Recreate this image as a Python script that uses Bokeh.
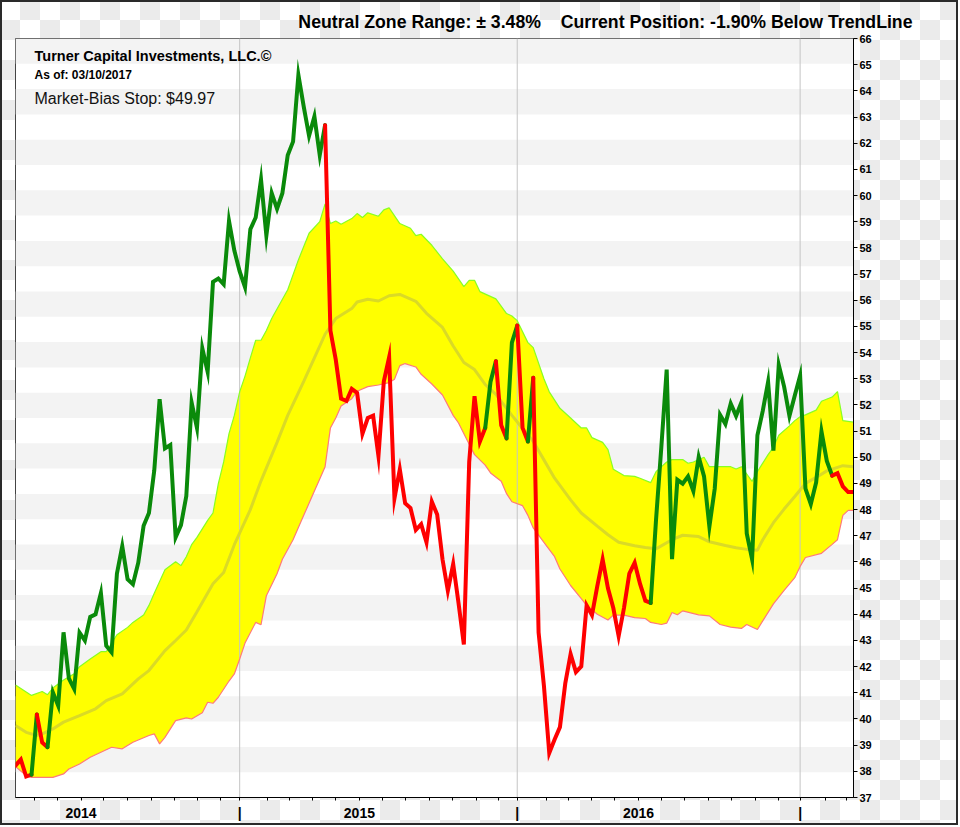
import pandas as pd
from bokeh.plotting import figure
from bokeh.models import Range1d, FixedTicker, Label, ColumnDataSource
from bokeh.embed import file_html
from bokeh.resources import INLINE

# ---------------- data ----------------
end_date = "2017-03-10"
n_weeks = 158

price = [38.22, 38.45, 37.80, 37.87, 40.17, 39.10, 38.92, 41.02, 40.51, 43.31,
         41.55, 41.15, 43.30, 43.00, 43.90, 44.00, 44.81, 42.80, 42.55, 45.55,
         46.60, 45.34, 45.15, 45.97, 47.38, 47.87, 49.50, 52.22, 50.34, 50.47,
         46.94, 47.41, 48.52, 52.09, 51.12, 54.16, 53.26, 56.70, 56.83, 56.61,
         59.03, 57.90, 57.10, 56.50, 58.71, 59.16, 60.61, 58.47, 60.09, 59.49,
         60.09, 61.54, 62.06, 64.61, 63.40, 62.28, 63.02, 61.54, 62.69, 54.84,
         53.73, 52.24, 52.15, 52.61, 52.46, 50.90, 51.50, 51.59, 50.05, 52.89,
         53.82, 48.43, 49.54, 48.24, 48.06, 47.22, 47.44, 46.75, 48.30, 47.81,
         46.10, 44.90, 45.92, 44.43, 42.85, 49.82, 52.33, 50.60, 51.12, 52.89,
         53.67, 51.22, 50.72, 54.38, 55.03, 51.12, 50.60, 53.04, 43.31, 41.27,
         38.70, 39.22, 39.69, 41.36, 42.48, 41.79, 42.01, 44.34, 43.97, 45.08,
         46.10, 44.99, 44.24, 43.17, 44.24, 45.55, 45.97, 45.17, 44.52, 44.43,
         47.60, 50.40, 53.35, 46.11, 49.14, 48.99, 49.27, 48.71, 50.01, 49.27,
         47.35, 48.80, 51.62, 51.27, 52.05, 51.58, 52.10, 47.09, 46.11, 50.84,
         51.77, 52.88, 50.25, 53.53, 52.70, 51.58, 52.36, 53.12, 48.80, 48.21,
         49.04, 50.99, 49.86, 49.30, 49.39, 48.89, 48.67, 48.67]

# market-bias signal: (week index where it starts, state)
bias_changes = [(0, "bear"), (4, "bull"), (5, "bear"), (7, "bull"), (59, "bear"),
                (89, "bull"), (91, "bear"), (93, "bull"), (95, "bear"), (97, "bull"),
                (98, "bear"), (120, "bull"), (154, "bear")]

upper_weeks = [0, 3, 5, 6, 7, 9, 11, 12, 14, 16, 17, 19, 21, 22, 24, 25, 26, 28, 30, 31,
               32, 33, 34, 36, 37, 38, 39, 40, 41, 42, 43, 44, 45, 46, 47, 48, 51, 53, 55, 57,
               58, 59, 60, 61, 63, 64, 65, 66, 68, 69, 70, 72, 74, 75, 76, 78, 80, 82, 84, 85,
               86, 87, 90, 92, 93, 94, 96, 97, 99, 100, 102, 104, 106, 107, 108, 110, 111, 112, 114, 116,
               117, 119, 120, 122, 123, 125, 126, 127, 129, 130, 132, 134, 135, 136, 137, 138, 139, 141, 142, 143,
               145, 146, 147, 148, 150, 151, 153, 154, 155, 157]
upper_vals = [41.30, 40.90, 41.05, 40.93, 41.18, 41.49, 41.73, 42.00, 42.29, 42.57, 42.57, 43.22, 43.50, 43.69, 43.97, 44.34, 44.80, 45.70, 46.01, 45.86,
              46.20, 46.66, 46.94, 47.59, 47.87, 48.99, 49.82, 50.90, 51.60, 52.50, 53.10, 53.80, 54.47, 54.47, 54.84, 55.30, 56.40, 57.54, 58.56, 59.00,
              59.68, 58.93, 59.03, 58.90, 59.12, 59.31, 59.16, 59.34, 59.21, 59.45, 59.53, 58.93, 58.75, 58.47, 58.52, 58.10, 57.58, 57.11, 56.52, 56.76,
              56.76, 56.33, 56.05, 55.49, 55.40, 55.22, 54.38, 54.19, 53.00, 52.50, 51.87, 51.50, 51.12, 51.12, 50.75, 50.57, 50.29, 49.54, 49.30, 49.27,
              49.20, 49.03, 49.45, 49.82, 49.91, 49.91, 49.77, 49.82, 50.00, 49.64, 49.64, 49.64, 49.55, 49.64, 49.36, 49.08, 49.45, 50.10, 50.38, 50.84,
              51.20, 51.40, 51.55, 51.62, 51.80, 52.14, 52.30, 52.51, 51.40, 51.34]

lower_weeks = [0, 2, 3, 7, 9, 10, 12, 14, 16, 18, 20, 22, 25, 26, 27, 28, 30, 32, 33, 35,
               36, 37, 38, 40, 41, 42, 43, 45, 46, 47, 49, 50, 52, 54, 56, 57, 58, 59, 60, 61,
               63, 64, 66, 68, 70, 71, 72, 73, 75, 76, 78, 80, 82, 83, 85, 86, 88, 89, 91, 92,
               93, 95, 96, 97, 99, 101, 102, 104, 106, 107, 109, 111, 112, 114, 116, 118, 119, 121, 122, 123,
               124, 125, 128, 130, 132, 134, 136, 137, 139, 140, 142, 144, 146, 147, 148, 151, 153, 154, 155, 156,
               157]
lower_vals = [38.18, 37.84, 37.77, 37.77, 37.90, 38.09, 38.28, 38.54, 38.73, 38.92, 38.86, 39.11, 39.37, 39.43, 39.05, 39.30, 39.94, 40.04, 40.00, 40.24,
              40.64, 40.60, 40.83, 41.45, 41.72, 42.29, 42.90, 43.69, 43.60, 44.71, 45.55, 46.10, 46.85, 47.78, 48.71, 49.17, 49.64, 51.12, 51.50, 51.96,
              52.24, 52.52, 52.70, 52.76, 52.85, 52.98, 53.50, 53.58, 53.45, 53.17, 52.80, 52.38, 51.60, 51.31, 50.50, 50.10, 49.70, 49.40, 49.08, 48.61,
              48.30, 48.15, 47.78, 47.30, 46.75, 46.20, 45.73, 45.10, 44.60, 44.34, 44.00, 43.78, 43.97, 43.97, 43.87, 43.84, 43.69, 43.61, 43.66, 44.07,
              43.98, 44.13, 43.98, 43.94, 43.61, 43.51, 43.46, 43.61, 43.42, 43.75, 44.40, 44.91, 45.40, 45.83, 46.17, 46.33, 46.67, 46.85, 47.78, 47.97,
              47.97]

trend_weeks = [0, 2, 4, 5, 7, 9, 12, 15, 17, 20, 23, 25, 28, 30, 32, 34, 37, 39, 41, 44,
               46, 49, 51, 54, 56, 58, 60, 63, 64, 66, 68, 70, 72, 75, 77, 80, 82, 84, 86, 88,
               90, 93, 95, 97, 99, 101, 104, 106, 109, 111, 113, 116, 118, 120, 123, 125, 128, 130, 133, 135,
               137, 139, 140, 142, 144, 146, 148, 150, 152, 155, 157]
trend_vals = [39.75, 39.49, 39.37, 39.43, 39.62, 39.88, 40.13, 40.39, 40.70, 40.96, 41.53, 41.85, 42.61, 43.00, 43.40, 44.10, 45.17, 45.60, 46.66, 48.00,
              49.10, 50.57, 51.60, 52.90, 53.80, 54.70, 55.30, 55.68, 55.93, 56.04, 55.97, 56.17, 56.22, 55.96, 55.50, 54.96, 54.25, 53.62, 53.35, 52.78,
              52.40, 51.60, 51.10, 50.60, 49.90, 49.20, 48.37, 47.87, 47.37, 47.04, 46.75, 46.62, 46.55, 46.50, 46.85, 47.02, 46.97, 46.77, 46.63, 46.54,
              46.48, 46.45, 46.85, 47.50, 48.02, 48.50, 49.00, 49.23, 49.48, 49.68, 49.64]

y_ticks = list(range(37, 67))
NBSP = "\u00a0"
header = "Neutral Zone Range: \u00b1 3.48%" + NBSP * 4 + "Current Position: -1.90% Below TrendLine"
company = "Turner Capital Investments, LLC.\u00a9"
as_of = "As of: 03/10/2017"
stop_text = "Market-Bias Stop: $49.97"

# ---------------- derived ----------------
dates = pd.date_range(end=end_date, periods=n_weeks, freq="7D")
start = dates[0]
days = [int((d - start).days) for d in dates]
y_lo, y_hi = y_ticks[0], y_ticks[-1]
x_lo, x_hi = days[0], days[-1]

def wk(weeks):
    return [days[w] for w in weeks]

# year separators: last weekly date of each year
years = sorted(set(d.year for d in dates))
sep = {}
for y in years[:-1]:
    sep[y + 1] = int((max(d for d in dates if d.year == y) - start).days)

tick_vals, overrides = [], {}
for m in pd.date_range(start, dates[-1], freq="MS"):
    if m.month == 1:
        t = sep[m.year]
        overrides[t] = "|"
    else:
        t = int((m - start).days)
        overrides[t] = str(m.year) if m.month == 6 else ""
    tick_vals.append(t)

SANS = "Liberation Sans"

p = figure(width=958, height=825, x_range=Range1d(x_lo, x_hi), y_range=Range1d(y_lo, y_hi),
           y_axis_location="right", output_backend="svg", toolbar_location=None,
           min_border_left=15, min_border_top=38, min_border_right=105, min_border_bottom=28,
           background_fill_color="white", border_fill_color=None,
           outline_line_color="#444444", outline_line_width=1,
           styles={"background-image": "repeating-conic-gradient(#ebebeb 0% 25%, #ffffff 0% 50%)",
                   "background-size": "40px 40px", "background-position": "0px 0px",
                   "outline": "2px solid #2a2a2a", "outline-offset": "-2px"})
p.grid.visible = False

p.title.text = header
p.title.align = "right"
p.title.offset = -59
p.title.standoff = 14
p.title.text_font = SANS
p.title.text_font_style = "bold"
p.title.text_font_size = "17.7px"
p.title.text_color = "black"

# alternating horizontal bands (30 equal bands, grey on top)
nb = 30
bh = (y_hi - y_lo) / nb
tops = [y_hi - k * bh for k in range(0, nb, 2)]
p.quad(left=x_lo, right=x_hi, top=tops, bottom=[t - bh for t in tops],
       fill_color="#f3f3f3", line_color=None)

# neutral zone
ux, lx = wk(upper_weeks), wk(lower_weeks)
p.patch(ux + lx[::-1], upper_vals + lower_vals[::-1], fill_color="#ffff00", line_color=None)

# year separator lines
sv = [sep[k] for k in sorted(sep)]
p.segment(x0=sv, x1=sv, y0=y_lo, y1=y_hi, line_color="#c4c4c4", line_width=1)

# trend line and zone edges
p.line(wk(trend_weeks), trend_vals, line_color="#dada26", line_width=3)
p.line(ux, upper_vals, line_color="#88ff22", line_width=1.2)
p.line(lx, lower_vals, line_color="#ff7a7a", line_width=1.2)

# price line coloured by market bias
state, ci, cur = [], 0, None
for i in range(n_weeks):
    while ci < len(bias_changes) and bias_changes[ci][0] <= i:
        cur = bias_changes[ci][1]
        ci += 1
    state.append(cur)
xs, ys, cols = [], [], []
run_start = 0
for i in range(1, n_weeks):
    if i == n_weeks - 1 or state[i + 1] != state[i]:
        seg = list(range(run_start, i + 1))
        xs.append([days[j] for j in seg])
        ys.append([price[j] for j in seg])
        cols.append("#0a8a0a" if state[i] == "bull" else "#ff0000")
        run_start = i
src = ColumnDataSource(dict(xs=xs, ys=ys, c=cols))
p.multi_line("xs", "ys", line_color="c", line_width=4, line_join="miter", line_cap="round", source=src)

# axes
ya = p.yaxis[0]
ya.ticker = FixedTicker(ticks=y_ticks, minor_ticks=[])
ya.major_tick_out = 4
ya.major_tick_in = 0
ya.major_label_standoff = 2
ya.major_label_text_font = SANS
ya.major_label_text_font_style = "bold"
ya.major_label_text_font_size = "11px"
ya.major_label_text_color = "black"
ya.axis_line_color = "black"
ya.major_tick_line_color = "black"

xa = p.xaxis[0]
xa.ticker = FixedTicker(ticks=tick_vals, minor_ticks=[])
xa.major_label_overrides = overrides
xa.major_tick_out = 3
xa.major_tick_in = 0
xa.major_label_standoff = 4
xa.major_label_text_font = SANS
xa.major_label_text_font_style = "bold"
xa.major_label_text_font_size = "14px"
xa.major_label_text_color = "black"
xa.axis_line_color = "black"
xa.major_tick_line_color = "black"

# texts inside the frame
ppx = (x_hi - x_lo) / 838.0
ppy = (y_hi - y_lo) / 759.0
p.add_layout(Label(x=x_lo + 19 * ppx, y=y_hi - 25.3 * ppy, text=company, text_font=SANS,
                   text_font_style="bold", text_font_size="14.5px", text_color="black"))
p.add_layout(Label(x=x_lo + 19 * ppx, y=y_hi - 43.7 * ppy, text=as_of, text_font=SANS,
                   text_font_style="bold", text_font_size="12px", text_color="black"))
p.add_layout(Label(x=x_lo + 19 * ppx, y=y_hi - 68 * ppy, text=stop_text, text_font=SANS,
                   text_font_size="16px", text_color="#111111"))

open("out.html", "w").write(file_html(p, INLINE))
